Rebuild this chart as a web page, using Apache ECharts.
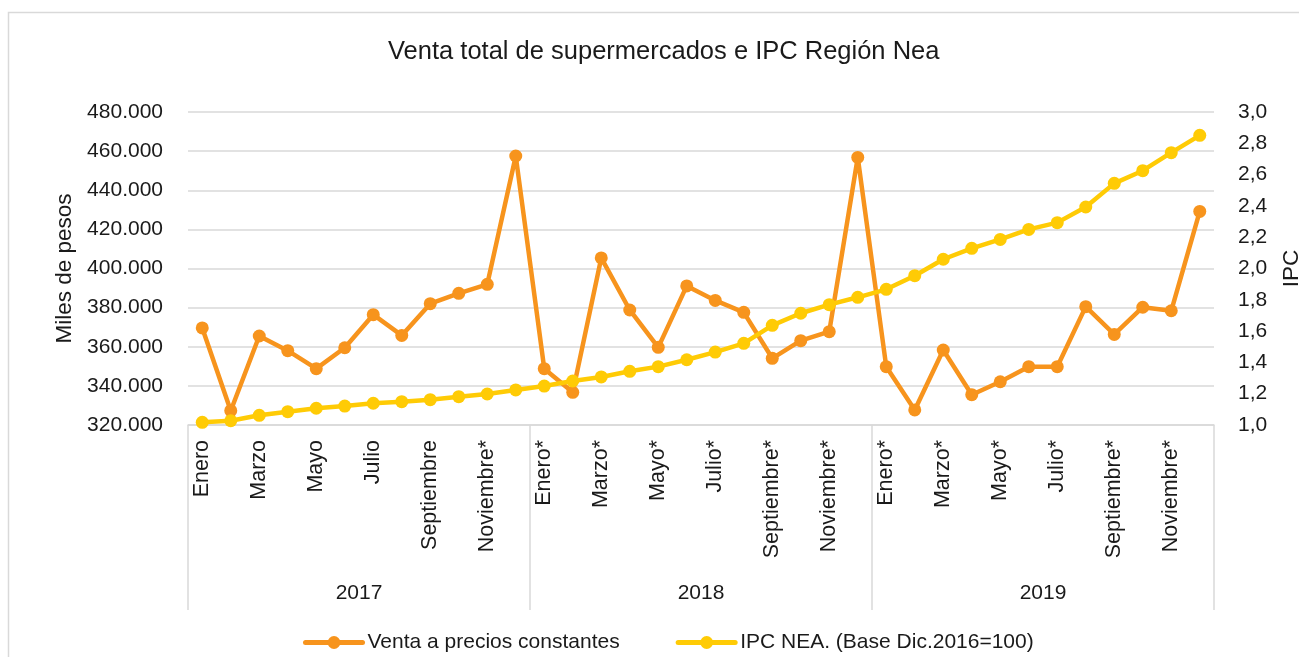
<!DOCTYPE html>
<html>
<head>
<meta charset="utf-8">
<script src="https://cdn.jsdelivr.net/npm/echarts@6/dist/echarts.min.js"></script>
<style>
  html, body { margin: 0; padding: 0; background: #fff; }
  #chart { width: 1299px; height: 657px; }
</style>
</head>
<body>
<div id="chart"></div>
<script>
  // months (asterisk = provisional data)
  const meses = [
    "Enero", "Febrero", "Marzo", "Abril", "Mayo", "Junio", "Julio", "Agosto", "Septiembre", "Octubre", "Noviembre*", "Diciembre*",
    "Enero*", "Febrero*", "Marzo*", "Abril*", "Mayo*", "Junio*", "Julio*", "Agosto*", "Septiembre*", "Octubre*", "Noviembre*", "Diciembre*",
    "Enero*", "Febrero*", "Marzo*", "Abril*", "Mayo*", "Junio*", "Julio*", "Agosto*", "Septiembre*", "Octubre*", "Noviembre*", "Diciembre*"
  ];
  const anios = ["2017", "2018", "2019"];

  // miles de pesos
  const venta = [
    369600, 327300, 365500, 358000, 348800, 359500, 376400, 365800, 382000, 387300, 391900, 457500,
    348800, 336700, 405400, 378800, 359700, 391100, 383700, 377600, 354100, 363100, 367700, 456800,
    349800, 327700, 358300, 335500, 342100, 349800, 349800, 380500, 366300, 380200, 378400, 429200
  ];

  // IPC NEA (base dic.2016 = 1)
  const ipc = [
    1.017, 1.027, 1.062, 1.085, 1.107, 1.121, 1.139, 1.149, 1.162, 1.181, 1.198, 1.224,
    1.249, 1.281, 1.307, 1.343, 1.373, 1.417, 1.466, 1.522, 1.637, 1.714, 1.769, 1.816,
    1.867, 1.954, 2.059, 2.129, 2.186, 2.250, 2.293, 2.393, 2.544, 2.625, 2.740, 2.851
  ];

  const font = "Liberation Sans";
  const txt = "#1a1a1a";
  const gris = "#d9d9d9";

  const chart = echarts.init(document.getElementById("chart"));
  chart.setOption({
    animation: false,
    backgroundColor: "#fff",
    textStyle: { fontFamily: font, color: txt },
    graphic: [
      {
        type: "rect",
        shape: { x: 8.5, y: 12.5, width: 1400, height: 700 },
        style: { fill: "none", stroke: gris, lineWidth: 1.5 },
        silent: true,
      },
    ],
    title: {
      text: "Venta total de supermercados e IPC Región Nea",
      left: 383,
      top: 34,
      textStyle: { fontFamily: font, fontSize: 25.5, fontWeight: "normal", color: txt },
    },
    legend: {
      left: 298,
      top: 627,
      itemWidth: 57,
      itemHeight: 16,
      itemGap: 56,
      lineStyle: { width: 5, cap: "round" },
      textStyle: { fontFamily: font, fontSize: 21, color: txt },
      data: ["Venta a precios constantes", "IPC NEA. (Base Dic.2016=100)"],
    },
    grid: {
      left: 188,
      right: 85,
      top: 112,
      bottom: 232,
      containLabel: false,
      outerBoundsMode: "none",
    },
    xAxis: [
      {
        type: "category",
        data: meses,
        boundaryGap: true,
        axisLine: { show: true, lineStyle: { color: gris, width: 1.5 } },
        axisTick: { show: false },
        axisLabel: {
          interval: 1,
          rotate: 90,
          margin: 15,
          fontFamily: font,
          fontSize: 21.5,
          color: txt,
        },
      },
      {
        type: "category",
        data: anios,
        position: "bottom",
        offset: 0,
        boundaryGap: true,
        axisLine: { show: false },
        axisTick: { show: true, length: 185, lineStyle: { color: gris, width: 1.5 } },
        axisLabel: { margin: 158, fontFamily: font, fontSize: 21, color: txt },
      },
    ],
    yAxis: [
      {
        type: "value",
        min: 320000,
        max: 480000,
        interval: 20000,
        name: "Miles de pesos",
        nameLocation: "middle",
        nameRotate: 90,
        nameGap: 110,
        nameTextStyle: { fontFamily: font, fontSize: 22.5, color: txt },
        axisLine: { show: false },
        axisTick: { show: false },
        splitLine: { lineStyle: { color: gris, width: 1.5 } },
        axisLabel: {
          margin: 25,
          fontFamily: font,
          fontSize: 21,
          color: txt,
          formatter: (v) => v.toLocaleString("de-DE"),
        },
      },
      {
        type: "value",
        min: 1,
        max: 3,
        interval: 0.2,
        name: "IPC",
        nameLocation: "middle",
        nameRotate: 90,
        nameGap: 66,
        nameTextStyle: { fontFamily: font, fontSize: 22.5, color: txt },
        axisLine: { show: false },
        axisTick: { show: false },
        splitLine: { show: false },
        axisLabel: {
          margin: 24,
          fontFamily: font,
          fontSize: 21,
          color: txt,
          formatter: (v) => v.toFixed(1).replace(".", ","),
        },
      },
    ],
    series: [
      {
        name: "Venta a precios constantes",
        type: "line",
        xAxisIndex: 0,
        yAxisIndex: 0,
        data: venta,
        symbol: "circle",
        symbolSize: 13,
        color: "#f7941d",
        lineStyle: { width: 4.5, color: "#f7941d" },
        itemStyle: { color: "#f7941d" },
      },
      {
        name: "IPC NEA. (Base Dic.2016=100)",
        type: "line",
        xAxisIndex: 0,
        yAxisIndex: 1,
        data: ipc,
        symbol: "circle",
        symbolSize: 13,
        color: "#ffcb05",
        lineStyle: { width: 4.5, color: "#ffcb05" },
        itemStyle: { color: "#ffcb05" },
      },
    ],
  });
</script>
</body>
</html>
